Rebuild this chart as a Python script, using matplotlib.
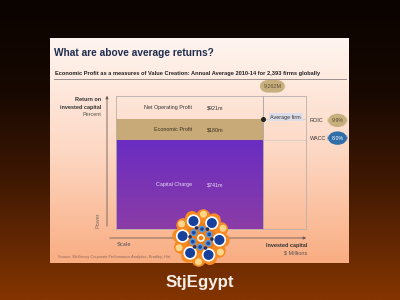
import numpy as np
import matplotlib.pyplot as plt
import matplotlib.transforms as mtransforms
from matplotlib.patches import Circle
from matplotlib.colors import LinearSegmentedColormap

plt.rcParams['font.family'] = ['Liberation Sans', 'DejaVu Sans']

# --- data (average firm, 2010-14) ---
invested_capital = 9262   # $ millions
roic = 9.9                # percent
wacc = 8.0                # percent
band_names = ['Net Operating Profit', 'Economic Profit', 'Capital Charge']
band_values = ['$921m', '$180m', '$741m']
x_max = 12000
y_max = 12.0

W, H = 400, 300
def fx(x):  # pixel -> figure fraction
    return x / W
def fy(y):
    return 1 - y / H

fig = plt.figure(figsize=(4, 3), dpi=100)

# --- background + slide ---
bg = fig.add_axes([0, 0, 1, 1], zorder=0)
bg.axis('off')
outer = LinearSegmentedColormap.from_list(
    'outer', [(0, '#0a0300'), (0.3, '#170802'), (0.6, '#3f1803'),
              (0.85, '#6a2a02'), (1, '#843500')])
bg.imshow(np.linspace(0, 1, 256)[:, None], cmap=outer, aspect='auto',
          extent=[0, W, H, 0], zorder=0)
slide = LinearSegmentedColormap.from_list('slide', ['#fff5f0', '#fdd8c4', '#f9ad82'])
bg.imshow(np.linspace(0, 1, 256)[:, None], cmap=slide, aspect='auto',
          extent=[50, 349, 263, 38], zorder=1)
bg.set_xlim(0, W)
bg.set_ylim(H, 0)

# axis arrows
arrow = dict(arrowstyle='-|>', color='#6a5a55', lw=0.6, mutation_scale=4)
bg.annotate('', xy=(107, 93), xytext=(107, 229), arrowprops=arrow)
bg.annotate('', xy=(309, 238), xytext=(107, 238), arrowprops=arrow)

# title and subtitle
fig.text(fx(54), fy(53), 'What are above average returns?', fontsize=7.3,
         fontweight='bold', color='#1f2d4f', va='center')
fig.text(fx(55), fy(74), 'Economic Profit as a measures of Value Creation: '
         'Annual Average 2010-14 for 2,393 firms globally', fontsize=4.1,
         fontweight='bold', color='#222222', va='center')
bg.plot([54, 346], [79, 79], color='#8a8080', lw=0.6)

# axis titles
fig.text(fx(101), fy(100), 'Return on', fontsize=4, fontweight='bold',
         color='#333333', ha='right', va='center')
fig.text(fx(101), fy(107), 'invested capital', fontsize=4, fontweight='bold',
         color='#333333', ha='right', va='center')
fig.text(fx(101), fy(115), 'Percent', fontsize=4, color='#555555',
         ha='right', va='center')
fig.text(fx(98), fy(220), 'Power', fontsize=4, color='#7a6a66', rotation=90,
         ha='center', va='center')
fig.text(fx(117), fy(245), 'Scale', fontsize=4, fontweight='bold',
         color='#7a6a66', va='center')
fig.text(fx(307), fy(245), 'Invested capital', fontsize=4, fontweight='bold',
         color='#333333', ha='right', va='center')
fig.text(fx(307), fy(253), '$ Millions', fontsize=4, color='#555555',
         ha='right', va='center')
fig.text(fx(58), fy(257), 'Source: McKinsey Corporate Performance Analytics, '
         'Bradley, Hirt', fontsize=2.8, color='#8a6a60', va='center')

# --- chart ---
ax = fig.add_axes([116 / W, 1 - 229 / H, 190 / W, 133 / H], zorder=1)
ax.patch.set_alpha(0)
purple = LinearSegmentedColormap.from_list('purple', ['#8b3ca6', '#6a2dc2'])
ax.imshow(np.linspace(0, 1, 256)[:, None], cmap=purple, aspect='auto',
          origin='lower', extent=[0, invested_capital, 0, wacc], zorder=1)
ax.bar(0, roic - wacc, width=invested_capital, bottom=wacc, align='edge',
       color='#c8aa78', zorder=1)
ax.axvline(invested_capital, color='#a8a0a0', lw=0.6, zorder=2)
ax.hlines([roic, wacc], invested_capital, x_max, color='#d8ccc4', lw=0.6, zorder=2)
ax.plot(invested_capital, roic, 'o', color='#222222', ms=2.6, zorder=3)
ax.set_xlim(0, x_max)
ax.set_ylim(0, y_max)
ax.set_xticks([])
ax.set_yticks([])
for s in ax.spines.values():
    s.set_color('#b8b0ac')
    s.set_linewidth(0.6)

band_y = [(roic + y_max) / 2, (wacc + roic) / 2, wacc / 2]
band_col = ['#333333', '#3a3020', '#e8dcf0']
for name, val, y, c in zip(band_names, band_values, band_y, band_col):
    ax.text(4800, y, name, fontsize=3.9, color=c, ha='right', va='center')
    ax.text(5750, y, val, fontsize=3.9, color=c, ha='left', va='center')

ax.annotate(f'{invested_capital:,}M', xy=(invested_capital, y_max),
            xytext=(7.0, 7.0), textcoords='offset points', fontsize=3.9,
            color='#5a4a30', ha='center', va='center',
            bbox=dict(boxstyle='round,pad=0.7,rounding_size=1.6',
                      fc='#c8b07e', ec='none'))
ax.annotate('Average firm', xy=(invested_capital, roic), xytext=(16.5, 1.5),
            textcoords='offset points', fontsize=3.9, color='#333333',
            ha='center', va='center',
            bbox=dict(boxstyle='square,pad=0.3', fc='#dcdde8', ec='none'))

tr = mtransforms.blended_transform_factory(ax.transAxes, ax.transData)
ax.text(1.021, roic - 0.1, 'ROIC', transform=tr, fontsize=4, color='#333333',
        ha='left', va='center')
ax.text(1.166, roic - 0.1, f'{roic:.1f}%', transform=tr, fontsize=3.8,
        color='#5a4a30', ha='center', va='center',
        bbox=dict(boxstyle='round,pad=0.8,rounding_size=2.0',
                  fc='#c8b07e', ec='none'))
ax.text(1.021, wacc + 0.2, 'WACC', transform=tr, fontsize=4, color='#333333',
        ha='left', va='center')
ax.text(1.166, wacc + 0.2, f'{wacc:.1f}%', transform=tr, fontsize=3.8,
        color='white', ha='center', va='center',
        bbox=dict(boxstyle='round,pad=0.8,rounding_size=2.0',
                  fc='#2f6ea8', ec='none'))

# --- logo + footer ---
lg = fig.add_axes([0, 0, 1, 1], zorder=5)
lg.set_xlim(0, W)
lg.set_ylim(H, 0)
lg.axis('off')
lg.patch.set_alpha(0)
cx, cy = 201, 238
lg.add_patch(Circle((cx, cy), 22, color='#f07c14'))
for a in np.radians(np.arange(6, 366, 30)):
    lg.add_patch(Circle((cx + 22 * np.cos(a), cy + 22 * np.sin(a)), 6.2,
                        color='#f58a22'))
for a in np.radians(np.arange(36, 396, 60)):
    lg.add_patch(Circle((cx + 24 * np.cos(a), cy + 24 * np.sin(a)), 2.8,
                        color='#ffd68a'))
    lg.add_patch(Circle((cx + 9 * np.cos(a), cy + 9 * np.sin(a)), 2.8,
                        color='#5b9be0'))
    lg.add_patch(Circle((cx + 9 * np.cos(a), cy + 9 * np.sin(a)), 1.2,
                        color='#1f4a9a'))
for a in np.radians(np.arange(6, 366, 60)):
    lg.add_patch(Circle((cx + 18.5 * np.cos(a), cy + 18.5 * np.sin(a)), 6.0,
                        color='white'))
    lg.add_patch(Circle((cx + 18.5 * np.cos(a), cy + 18.5 * np.sin(a)), 4.3,
                        color='#17409a'))
    lg.add_patch(Circle((cx + 11 * np.cos(a), cy + 11 * np.sin(a)), 1.1,
                        color='#233060'))
lg.add_patch(Circle((cx, cy), 3.2, color='white'))
lg.add_patch(Circle((cx, cy), 1.6, color='#f07c14'))

fig.text(fx(200), fy(283), 'StjEgypt', fontsize=12.2, fontweight='bold',
         color='#f6eee8', ha='center', va='center')

fig.savefig('out.png', dpi=100)
